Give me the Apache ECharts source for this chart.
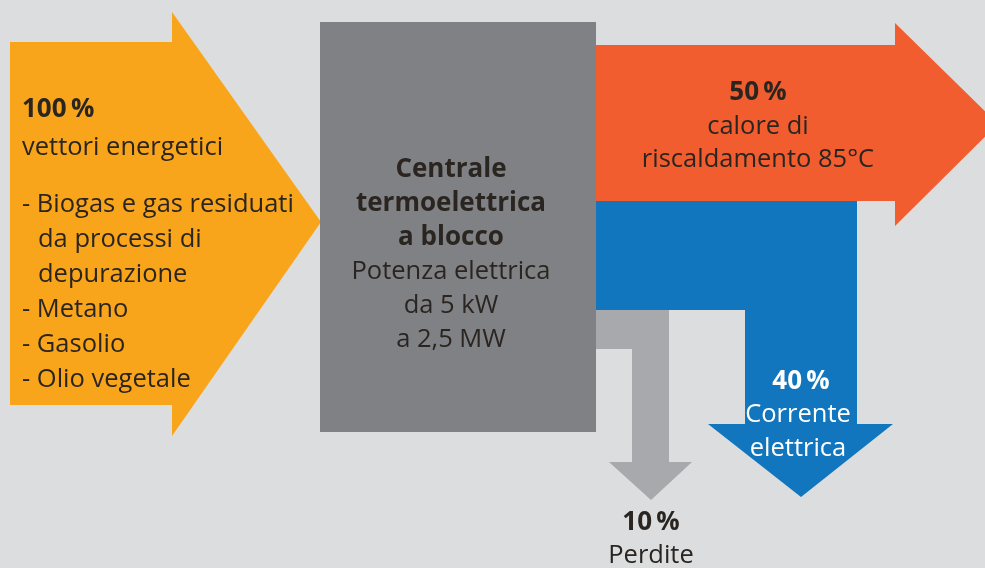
<!DOCTYPE html>
<html><head><meta charset="utf-8">
<script src="https://cdn.jsdelivr.net/npm/echarts@6/dist/echarts.min.js"></script>
<style>html,body{margin:0;padding:0;background:#dcdddf}#c{width:985px;height:568px}</style>
</head><body><div id="c"></div>
<script>
// ---- data ----
const flowNames = ['vettori energetici', 'Centrale termoelettrica a blocco', 'calore di riscaldamento 85°C', 'Corrente elettrica', 'Perdite'];
const flowPercents = [100, null, 50, 40, 10];
const inputList = ['- Biogas e gas residuati', 'da processi di', 'depurazione', '- Metano', '- Gasolio', '- Olio vegetale'];
const plantTitle = ['Centrale', 'termoelettrica', 'a blocco'];
const plantSub = ['Potenza elettrica', 'da 5 kW', 'a 2,5 MW'];
const heatLines = ['calore di', 'riscaldamento 85°C'];
const powerLines = ['Corrente', 'elettrica'];
const lossLines = ['Perdite'];

// ---- layout (diagram geometry, in axis units) ----
const shapes = [
  [[10,42],[172,42],[172,12],[321,222],[172,436],[172,405],[10,405]],
  [[320,22],[596,22],[596,432],[320,432]],
  [[596,45],[895,45],[895,23],[998,124],[895,226],[895,201],[596,201]],
  [[596,201],[857,201],[857,424],[893,424],[801,497],[708,424],[745,424],[745,310],[596,310]],
  [[596,310],[669,310],[669,462],[692,462],[651,500],[609,462],[632,462],[632,349],[596,349]]
];
const colors = ['#f9a51b', '#808184', '#f15d2f', '#1176bd', '#a7a9ac'];
const FONT = '"Open Sans", "Noto Sans", sans-serif';
const SIZE = 25.5;
const BSIZE = 26;

function pct(v){ return v + '\u2009%'; }

// text items: [text, x, y, align, bold, color]
const dark = '#2a2520';
const texts = [];
texts.push([pct(flowPercents[0]), 22, 110, 'left', true, dark]);
texts.push([flowNames[0], 22, 148, 'left', false, dark]);
[205,240,275,310,345,380].forEach((y,i)=>{
  texts.push([inputList[i], (i===1||i===2)?38:22, y, 'left', false, dark]);
});
plantTitle.forEach((t,i)=>texts.push([t, 451, 170+i*34, 'center', true, dark]));
plantSub.forEach((t,i)=>texts.push([t, 451, 272+i*34, 'center', false, dark]));
texts.push([pct(flowPercents[2]), 758, 93, 'center', true, dark]);
heatLines.forEach((t,i)=>texts.push([t, 758, 127+i*33, 'center', false, dark]));
texts.push([pct(flowPercents[3]), 801, 382, 'center', true, '#ffffff']);
powerLines.forEach((t,i)=>texts.push([t, 798, 415+i*34, 'center', false, '#ffffff']));
texts.push([pct(flowPercents[4]), 651, 523, 'center', true, dark]);
lossLines.forEach((t,i)=>texts.push([t, 651, 556, 'center', false, dark]));

const chart = echarts.init(document.getElementById('c'));
chart.setOption({
  backgroundColor: '#dcdddf',
  animation: false,
  grid: {left: 0, right: 0, top: 0, bottom: 0},
  xAxis: {type: 'value', min: 0, max: 985, show: false},
  yAxis: {type: 'value', min: 0, max: 568, inverse: true, show: false},
  series: [{
    type: 'custom',
    coordinateSystem: 'cartesian2d',
    data: flowNames.map((n,i)=>[i]),
    clip: false,
    renderItem: function(params, api){
      const i = api.value(0);
      const pts = shapes[i].map(p=>api.coord(p));
      return {type: 'polygon', shape: {points: pts}, style: {fill: colors[i]}};
    }
  },{
    type: 'custom',
    coordinateSystem: 'cartesian2d',
    data: texts.map((t,i)=>[t[1], t[2], i]),
    clip: false,
    z: 5,
    renderItem: function(params, api){
      const t = texts[api.value(2)];
      const c = api.coord([api.value(0), api.value(1)]);
      return {type: 'text', x: c[0], y: c[1], style: {
        text: t[0], fill: t[5], align: t[3], verticalAlign: 'middle',
        font: (t[4] ? 'bold ' + BSIZE : SIZE) + 'px ' + FONT
      }};
    }
  }]
});
</script></body></html>
